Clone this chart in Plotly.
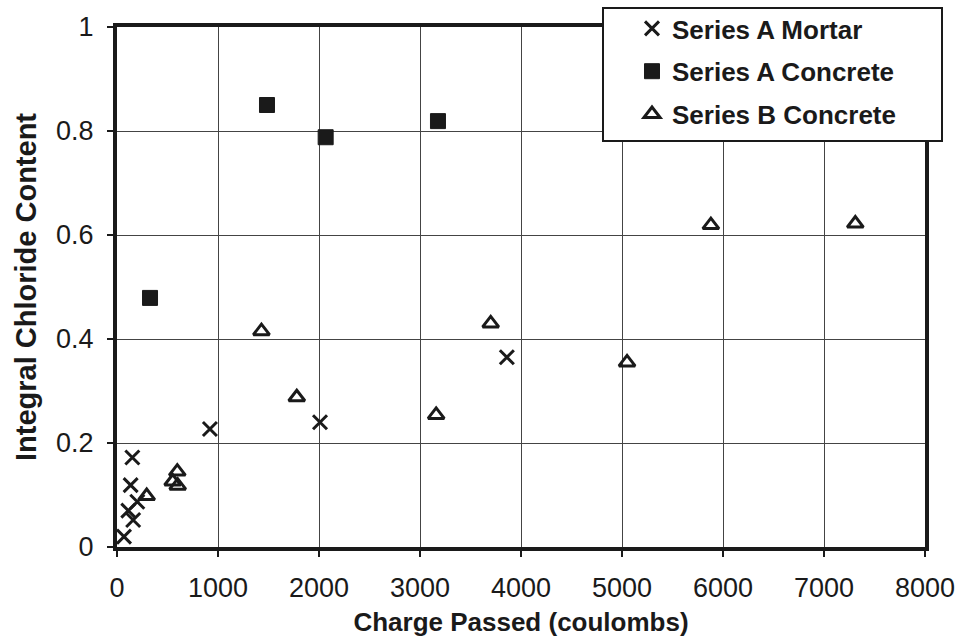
import plotly.graph_objects as go

# Data
mortar_x = [69, 112, 135, 152, 160, 201, 920, 2010, 3860]
mortar_y = [0.02, 0.07, 0.119, 0.172, 0.052, 0.087, 0.227, 0.24, 0.365]

conc_a_x = [327, 1485, 2066, 3178]
conc_a_y = [0.479, 0.85, 0.788, 0.819]

conc_b_x = [294, 551, 597, 601, 1430, 1780, 3160, 3700, 5050, 5880, 7310]
conc_b_y = [0.098, 0.126, 0.145, 0.118, 0.415, 0.288, 0.254, 0.43, 0.355, 0.619, 0.622]

x_ticks = [0, 1000, 2000, 3000, 4000, 5000, 6000, 7000, 8000]
y_ticks = [0, 0.2, 0.4, 0.6, 0.8, 1]
y_tick_text = ["0", "0.2", "0.4", "0.6", "0.8", "1"]

FONT = "Liberation Sans, Arial, sans-serif"
INK = "#1a1a1a"

fig = go.Figure()
fig.add_trace(go.Scatter(
    x=mortar_x, y=mortar_y, mode="markers", name="<b>Series A Mortar</b>",
    legendgroup="a",
    marker=dict(symbol="x-thin", size=14, color=INK,
                line=dict(color=INK, width=3)),
))
fig.add_trace(go.Scatter(
    x=conc_a_x, y=conc_a_y, mode="markers", name="<b>Series A Concrete</b>",
    legendgroup="b",
    marker=dict(symbol="square", size=15, color=INK,
                line=dict(color=INK, width=1)),
))
fig.add_trace(go.Scatter(
    x=conc_b_x, y=conc_b_y, mode="markers", name="<b>Series B Concrete</b>",
    legendgroup="c",
    marker=dict(symbol="triangle-up-open", size=14, color=INK,
                line=dict(color=INK, width=3)),
))

axis_common = dict(
    showline=True, linewidth=4, linecolor=INK, mirror=True,
    showgrid=True, gridcolor="#444444", gridwidth=1,
    ticks="outside", ticklen=6, tickwidth=1.5, tickcolor=INK,
    zeroline=False, automargin=False, ticklabeloverflow="allow",
    tickfont=dict(family=FONT, size=27, color=INK),
)

fig.update_xaxes(
    range=[0, 8000], tickvals=x_ticks, ticktext=[str(v) for v in x_ticks],
    title=dict(text="<b>Charge Passed (coulombs)</b>",
               font=dict(family=FONT, size=26, color=INK), standoff=11),
    ticklabelstandoff=8,
    **axis_common,
)
fig.update_yaxes(
    range=[0, 1], tickvals=y_ticks, ticktext=y_tick_text,
    title=dict(text="<b>Integral Chloride Content</b>",
               font=dict(family=FONT, size=29, color=INK), standoff=12),
    ticklabelstandoff=8,
    **axis_common,
)

# legend frame
fig.add_shape(type="rect", xref="paper", yref="paper",
              x0=(603 - 117) / 808, x1=(942 - 117) / 808,
              y0=(547 - 141) / 520, y1=(547 - 8) / 520,
              line=dict(color=INK, width=2), fillcolor="white",
              layer="above")

fig.update_layout(
    width=955, height=638,
    margin=dict(l=117, r=30, t=27, b=91, autoexpand=False),
    paper_bgcolor="white", plot_bgcolor="white",
    font=dict(family=FONT, color=INK),
    showlegend=True,
    legend=dict(
        x=(632 - 117) / 808, y=(547 - 5) / 520, xanchor="left", yanchor="top",
        bgcolor="rgba(0,0,0,0)", borderwidth=0,
        font=dict(family=FONT, size=26, color=INK),
        tracegroupgap=6, itemwidth=30,
    ),
)

fig.write_html("out.html")
